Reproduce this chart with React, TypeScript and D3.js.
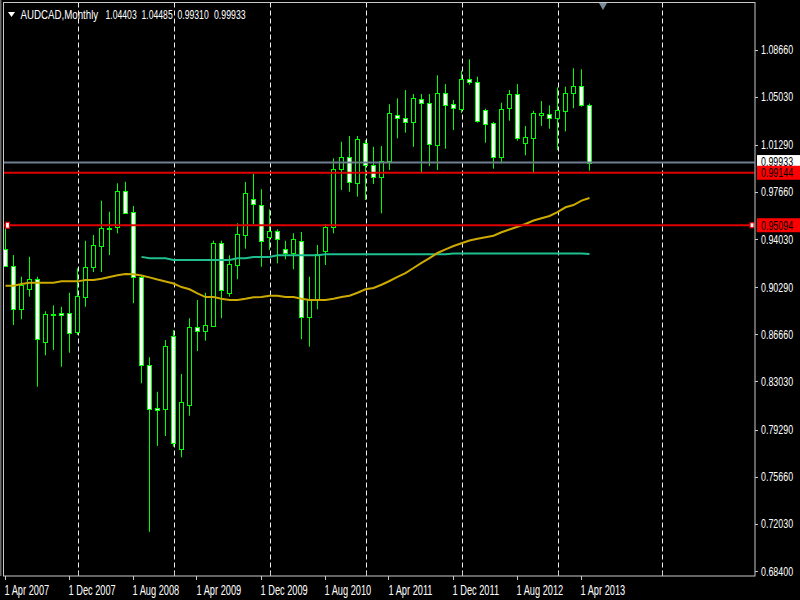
import React from 'react';
import * as d3 from 'd3';

// Monthly AUDCAD, Apr 2007 .. May 2013
const opens = [0.9326,0.9197,0.8865,0.9019,0.9096,0.8608,0.8816,0.8834,0.8834,0.8683,0.8958,0.9184,0.9349,0.9480,0.9493,0.9776,0.9609,0.9112,0.8430,0.8096,0.8088,0.8654,0.7784,0.8119,0.8721,0.8695,0.8731,0.9374,0.8984,0.9205,0.9436,0.9709,0.9665,0.9416,0.9467,0.9323,0.9293,0.9390,0.8799,0.8937,0.9308,0.9493,0.9941,1.0038,0.9838,1.0142,0.9974,0.9879,1.0007,1.0363,1.0339,1.0304,1.0484,1.0451,1.0126,1.0528,1.0443,1.0404,1.0640,1.0617,1.0396,1.0298,1.0036,1.0417,1.0520,1.0146,1.0180,1.0358,1.0366,1.0335,1.0391,1.0528,1.0584,1.04403];
const highs = [0.9488,0.9279,0.9112,0.9266,0.9112,0.8845,0.8891,0.8880,0.8988,0.9177,0.9390,0.9434,0.9699,0.9614,0.9833,0.9845,0.9658,0.9125,0.8490,0.8224,0.8623,0.8700,0.8361,0.8791,0.8932,0.8988,0.9390,0.9390,0.9277,0.9524,0.9843,0.9905,0.9787,0.9632,0.9478,0.9390,0.9447,0.9457,0.9112,0.9357,0.9519,1.0026,1.0154,1.0198,1.0198,1.0167,1.0115,1.0121,1.0443,1.0489,1.0553,1.0522,1.0522,1.0522,1.0667,1.0599,1.0476,1.0702,1.0790,1.0656,1.0409,1.0306,1.0455,1.0553,1.0599,1.0275,1.0393,1.0468,1.0435,1.0574,1.0579,1.0721,1.0713,1.04485];
const lows = [0.9190,0.8739,0.8783,0.8958,0.8263,0.8505,0.8546,0.8417,0.8525,0.8662,0.8880,0.9148,0.9148,0.9279,0.9447,0.9600,0.8907,0.8289,0.7143,0.7805,0.7882,0.7800,0.7718,0.8039,0.8538,0.8618,0.8725,0.8791,0.8958,0.9092,0.9328,0.9519,0.9189,0.9318,0.9215,0.9246,0.9169,0.8629,0.8572,0.8860,0.9202,0.9447,0.9781,0.9768,0.9730,0.9704,0.9828,0.9601,0.9936,1.0180,1.0224,1.0115,0.9910,0.9966,0.9936,1.0100,1.0244,1.0376,1.0594,1.0301,1.0146,0.9946,0.9987,1.0316,1.0162,1.0049,0.9910,1.0275,1.0254,1.0090,1.0234,1.0412,1.0424,0.99310];
const closes = [0.9195,0.8865,0.9048,0.9096,0.8629,0.8824,0.8824,0.8814,0.8675,0.8965,0.9189,0.9354,0.9488,0.9485,0.9776,0.9606,0.9107,0.8430,0.8088,0.8083,0.8577,0.7830,0.8145,0.8721,0.8695,0.8737,0.9374,0.9009,0.9210,0.9442,0.9756,0.9673,0.9385,0.9467,0.9405,0.9293,0.9401,0.8799,0.8942,0.9287,0.9498,0.9941,1.0038,0.9841,1.0175,0.9974,0.9884,1.0007,1.0373,1.0335,1.0304,1.0489,1.0451,1.0136,1.0528,1.0437,1.0417,1.0640,1.0615,1.0314,1.0293,1.0036,1.0409,1.0520,1.0180,1.0188,1.0378,1.0378,1.0335,1.0399,1.0532,1.0586,1.0440,0.99933];

// slow moving average (gold), one value per bar
const maGold = [0.9042,0.9042,0.9056,0.9066,0.9066,0.9066,0.9066,0.9076,0.9076,0.9076,0.9086,0.9086,0.9096,0.9110,0.9123,0.9133,0.9130,0.9121,0.9107,0.9090,0.9075,0.9059,0.9032,0.9015,0.8984,0.8955,0.8955,0.8942,0.8932,0.8932,0.8942,0.8954,0.8955,0.8965,0.8965,0.8955,0.8955,0.8942,0.8932,0.8932,0.8932,0.8942,0.8955,0.8965,0.8988,0.9015,0.9025,0.9050,0.9079,0.9110,0.9140,0.9179,0.9218,0.9256,0.9295,0.9323,0.9349,0.9370,0.9391,0.9405,0.9416,0.9428,0.9455,0.9476,0.9498,0.9519,0.9546,0.9563,0.9581,0.9611,0.9648,0.9665,0.9699,0.9719];
// second average (teal), starts at bar 17 (Sep 2008)
const maTealStart = 17;
const maTeal = [0.9265,0.9254,0.9254,0.9254,0.9241,0.9241,0.9241,0.9241,0.9241,0.9241,0.9241,0.9241,0.9254,0.9254,0.9264,0.9264,0.9264,0.9277,0.9277,0.9277,0.9277,0.9277,0.9277,0.9285,0.9285,0.9285,0.9285,0.9285,0.9285,0.9285,0.9285,0.9285,0.9285,0.9285,0.9285,0.9285,0.9285,0.9285,0.9285,0.9291,0.9291,0.9291,0.9291,0.9291,0.9291,0.9291,0.9291,0.9291,0.9291,0.9291,0.9291,0.9291,0.9291,0.9291,0.9291,0.9291,0.9287];

const priceTicks = [1.0866,1.0503,1.0129,0.9766,0.9403,0.9029,0.8666,0.8303,0.7929,0.7566,0.7203,0.6840];
const dateTickIdx = [0,8,16,24,32,40,48,56,64,72];
const dateTickLabels = ['1 Apr 2007','1 Dec 2007','1 Aug 2008','1 Apr 2009','1 Dec 2009','1 Aug 2010','1 Apr 2011','1 Dec 2011','1 Aug 2012','1 Apr 2013'];
const gridIdx = [9,21,33,45,57,69,82];

const bidPrice = 0.99933;
const hLines = [0.99144, 0.95094];
const titleParts = ['AUDCAD,Monthly','1.04403','1.04485','0.99310','0.99933'];

const FONT = "'Liberation Sans', Arial, sans-serif";

function T({ x, y, sx, size, fill, children }: { x: number; y: number; sx: number; size: number; fill: string; children: string }) {
  return (
    <text transform={`translate(${x},${y}) scale(${sx},1)`} fontFamily={FONT} fontSize={size} fill={fill}>
      {children}
    </text>
  );
}

export default function App() {
  const x = d3.scaleLinear().domain([0, 73]).range([5.5, 589.5]);
  const y = d3.scaleLinear().domain([0.684, 1.0866]).range([571, 49.5]);

  const L = 3.5, R = 755, Tp = 2.5, B = 576;

  const goldLine = d3.line<number>().x((_, i) => x(i)).y(d => y(d))(maGold) || '';
  const tealLine = d3.line<number>().x((_, i) => x(i + maTealStart)).y(d => y(d))(maTeal) || '';

  const titleX = [20.5, 105.5, 141.5, 177.5, 214];
  const titleSx = [0.81, 0.72, 0.72, 0.72, 0.73];

  return (
    <div style={{ position: 'absolute', left: 0, top: 0, width: 800, height: 600 }}>
      <svg width={800} height={600} style={{ display: 'block', background: '#000' }}>
        <defs>
          <clipPath id="plot">
            <rect x={L + 0.5} y={Tp + 0.5} width={R - L - 1} height={B - Tp - 1} />
          </clipPath>
        </defs>
        <rect x={0} y={0} width={800} height={600} fill="#000" />
        <rect x={0} y={0} width={1.5} height={B} fill="#6a6a6a" />

        <g clipPath="url(#plot)">
          {gridIdx.map(i => (
            <line key={'g' + i} x1={Math.round(x(i)) + 0.5} x2={Math.round(x(i)) + 0.5} y1={Tp} y2={B}
              stroke="#f0f0f0" strokeWidth={1} strokeDasharray="5,3" />
          ))}

          {opens.map((o, i) => {
            const c = closes[i];
            const cx = x(i);
            const top = Math.round(y(Math.max(o, c))) + 0.5;
            const bot = Math.round(y(Math.min(o, c))) + 0.5;
            const bear = c < o;
            return (
              <g key={'c' + i}>
                <line x1={cx} x2={cx} y1={y(highs[i])} y2={y(lows[i])} stroke="#00ff00" strokeWidth={1} />
                <rect x={cx - 2} y={top} width={4} height={Math.max(bot - top, 1)}
                  fill={bear ? '#ffffff' : '#000000'} stroke="#00ff00" strokeWidth={1} />
              </g>
            );
          })}

          <path d={tealLine} fill="none" stroke="#1fbf8f" strokeWidth={2} />
          <path d={goldLine} fill="none" stroke="#ccaa00" strokeWidth={2} />

          <line x1={L} x2={R} y1={y(bidPrice)} y2={y(bidPrice)} stroke="#6f7f8f" strokeWidth={2} />
          {hLines.map(p => (
            <line key={'h' + p} x1={L} x2={R} y1={y(p)} y2={y(p)} stroke="#e00000" strokeWidth={2} />
          ))}
        </g>

        {/* markers on second horizontal line */}
        <rect x={5.5} y={y(hLines[1]) - 3} width={4} height={6} fill="#ffffff" stroke="#e00000" strokeWidth={1.2} />
        <line x1={R} x2={752} y1={y(hLines[1])} y2={y(hLines[1])} stroke="#e00000" strokeWidth={2} />
        <rect x={750} y={y(hLines[1]) - 2.5} width={4} height={5} fill="#ffffff" stroke="#e00000" strokeWidth={1.2} />

        {/* frame */}
        <rect x={L} y={Tp} width={R - L} height={B - Tp} fill="none" stroke="#c8c8c8" strokeWidth={1} />

        {/* shift triangle */}
        <path d="M599,3 L607,3 L603,10 Z" fill="#7d8b99" />

        {/* price axis */}
        {priceTicks.map(p => (
          <g key={'p' + p}>
            <line x1={R} x2={R + 3} y1={Math.round(y(p)) + 0.5} y2={Math.round(y(p)) + 0.5} stroke="#c8c8c8" />
            <T x={761} y={y(p) + 4.5} sx={0.74} size={12} fill="#ffffff">{p.toFixed(5)}</T>
          </g>
        ))}

        {/* bid label */}
        <rect x={757} y={y(bidPrice) - 7.5} width={43} height={12} fill="#ffffff" />
        <T x={761} y={y(bidPrice) + 3} sx={0.74} size={12} fill="#000">{bidPrice.toFixed(5)}</T>
        {hLines.map(p => (
          <g key={'hl' + p}>
            <rect x={757} y={y(p) - 7} width={43} height={14} fill="#ff0000" />
            <T x={761} y={y(p) + 4.5} sx={0.74} size={12} fill="#000">{p.toFixed(5)}</T>
          </g>
        ))}

        {/* time axis */}
        {dateTickIdx.map((i, k) => (
          <g key={'d' + i}>
            <line x1={Math.round(x(i)) - 0.5} x2={Math.round(x(i)) - 0.5} y1={B} y2={B + 4} stroke="#c8c8c8" />
            <T x={x(i) - 1} y={594.5} sx={0.66} size={14} fill="#ffffff">{dateTickLabels[k]}</T>
          </g>
        ))}
        {gridIdx.map(i => (
          <line key={'gt' + i} x1={Math.round(x(i)) + 0.5} x2={Math.round(x(i)) + 0.5} y1={B - 4} y2={B} stroke="#c8c8c8" />
        ))}

        {/* title */}
        <path d="M8,12 L15,12 L11.5,17 Z" fill="#ffffff" />
        {titleParts.map((t, k) => (
          <T key={'t' + k} x={titleX[k]} y={18.5} sx={titleSx[k]} size={12} fill="#ffffff">{t}</T>
        ))}
      </svg>
    </div>
  );
}
